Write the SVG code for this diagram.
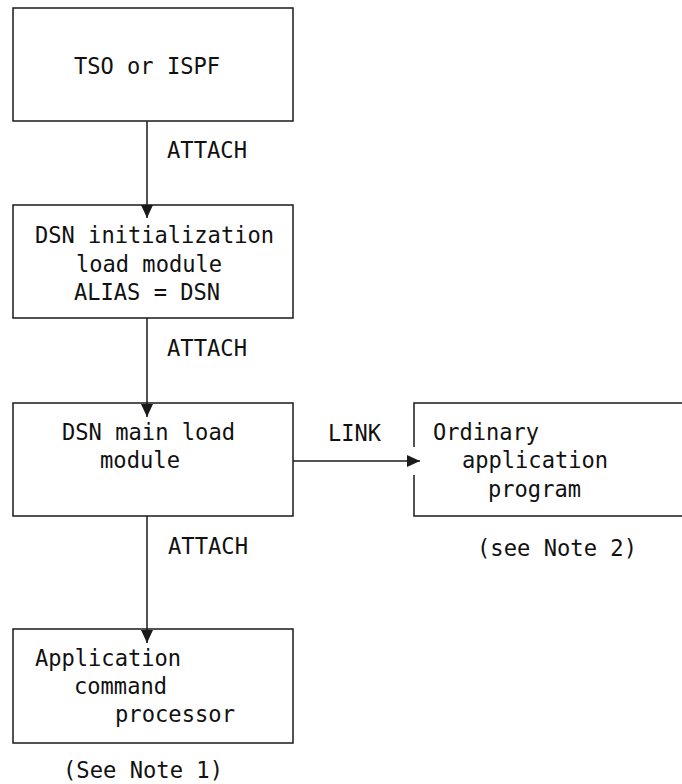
<svg xmlns="http://www.w3.org/2000/svg" width="682" height="784" viewBox="0 0 682 784">
  <style>
    .box { fill: none; stroke: #1a1a1a; stroke-width: 1.5; }
    .edge { fill: none; stroke: #1a1a1a; stroke-width: 1.5; }
    text { font-family: "DejaVu Sans Mono", "Liberation Mono", monospace; font-size: 23.5px; fill: #111; }
  </style>
  <defs>
    <marker id="arrow" markerUnits="userSpaceOnUse" markerWidth="13" markerHeight="12" refX="13" refY="6" orient="auto">
      <path d="M0,0 L13,6 L0,12 z" fill="#1a1a1a"/>
    </marker>
  </defs>
  <rect width="682" height="784" fill="#ffffff"/>

  <g id="tso">
    <rect class="box" x="13" y="8" width="280" height="113"/>
    <text x="74" y="74" textLength="146" lengthAdjust="spacingAndGlyphs">TSO or ISPF</text>
  </g>

  <g id="dsn-init">
    <rect class="box" x="13" y="205" width="280" height="113"/>
    <text x="35" y="243" textLength="239" lengthAdjust="spacingAndGlyphs">DSN initialization</text>
    <text x="76" y="272" textLength="146" lengthAdjust="spacingAndGlyphs">load module</text>
    <text x="74" y="300" textLength="146" lengthAdjust="spacingAndGlyphs">ALIAS = DSN</text>
  </g>

  <g id="dsn-main">
    <rect class="box" x="13" y="403" width="280" height="113"/>
    <text x="62" y="440" textLength="173" lengthAdjust="spacingAndGlyphs">DSN main load</text>
    <text x="100" y="468" textLength="80" lengthAdjust="spacingAndGlyphs">module</text>
  </g>

  <g id="ordinary">
    <path class="box" d="M414,447 V403 H690 M414,475 V516 H690"/>
    <text x="433" y="440" textLength="106" lengthAdjust="spacingAndGlyphs">Ordinary</text>
    <text x="462" y="468" textLength="146" lengthAdjust="spacingAndGlyphs">application</text>
    <text x="488" y="497" textLength="93" lengthAdjust="spacingAndGlyphs">program</text>
    <text x="477" y="556" textLength="160" lengthAdjust="spacingAndGlyphs">(see Note 2)</text>
  </g>

  <g id="app-cmd">
    <rect class="box" x="13" y="629" width="280" height="114"/>
    <text x="35" y="666" textLength="146" lengthAdjust="spacingAndGlyphs">Application</text>
    <text x="74" y="694" textLength="93" lengthAdjust="spacingAndGlyphs">command</text>
    <text x="115" y="722" textLength="120" lengthAdjust="spacingAndGlyphs">processor</text>
    <text x="63" y="778" textLength="160" lengthAdjust="spacingAndGlyphs">(See Note 1)</text>
  </g>

  <g id="connectors">
    <line class="edge" x1="147" y1="121" x2="147" y2="218" marker-end="url(#arrow)"/>
    <text x="167" y="158" textLength="80" lengthAdjust="spacingAndGlyphs">ATTACH</text>
    <line class="edge" x1="147" y1="318" x2="147" y2="417" marker-end="url(#arrow)"/>
    <text x="167" y="356" textLength="80" lengthAdjust="spacingAndGlyphs">ATTACH</text>
    <line class="edge" x1="293" y1="461" x2="420" y2="461" marker-end="url(#arrow)"/>
    <text x="328" y="441" textLength="53" lengthAdjust="spacingAndGlyphs">LINK</text>
    <line class="edge" x1="147" y1="516" x2="147" y2="643" marker-end="url(#arrow)"/>
    <text x="168" y="554" textLength="80" lengthAdjust="spacingAndGlyphs">ATTACH</text>
  </g>
</svg>
